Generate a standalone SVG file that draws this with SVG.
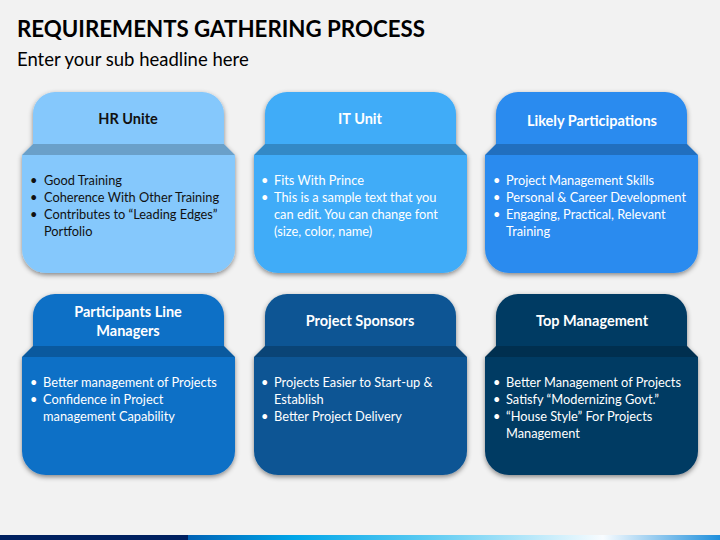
<svg xmlns="http://www.w3.org/2000/svg" xmlns:xlink="http://www.w3.org/1999/xlink" width="720" height="540" viewBox="0 0 720 540">
<defs>
<filter id="sh" x="-10%" y="-10%" width="120%" height="125%">
<feDropShadow dx="0" dy="2" stdDeviation="2.5" flood-color="#000" flood-opacity="0.45"/>
</filter>
<path id="card" d="M11,52 V22 A22,22 0 0 1 33,0 H180 A22,22 0 0 1 202,22 V52 L213,63 V157 A24,24 0 0 1 189,181 H24 A24,24 0 0 1 0,157 V63 Z"/>
<path id="band" d="M11,52 H202 L213,63 H0 Z"/>
<linearGradient id="bar" x1="0" y1="0" x2="1" y2="0">
<stop offset="0" stop-color="#0062B5"/>
<stop offset="0.2" stop-color="#00A6E8"/>
<stop offset="0.45" stop-color="#5CCBF2"/>
<stop offset="0.78" stop-color="#F8FCFF"/>
<stop offset="1" stop-color="#1E8FDC"/>
</linearGradient>
</defs>
<style>
text{font-family:Lato,"Open Sans","Liberation Sans",sans-serif}
.t{font-size:23px;font-weight:bold;fill:#000}
.s{font-size:18.5px;fill:#000}
.h{font-size:14.5px;font-weight:bold;fill:#fff;text-anchor:middle}
.b{font-size:12.8px;fill:#fff}
.dk .h,.dk .b{fill:#111}
.band{fill:#000;fill-opacity:0.2}
</style>
<rect width="720" height="540" fill="#F2F2F2"/>
<text class="t" x="17" y="37" textLength="408" lengthAdjust="spacingAndGlyphs">REQUIREMENTS GATHERING PROCESS</text>
<text class="s" x="17" y="66">Enter your sub headline here</text>

<g id="hr-unite" class="dk">
<use xlink:href="#card" transform="translate(22,92)" fill="#85C8FC" filter="url(#sh)"/>
<use xlink:href="#band" transform="translate(22,92)" class="band"/>
<text class="h" x="128" y="124">HR Unite</text>
<text class="b" x="30" y="185">•</text><text class="b" x="44" y="185">Good Training</text>
<text class="b" x="30" y="202">•</text><text class="b" x="44" y="202">Coherence With Other Training</text>
<text class="b" x="30" y="219">•</text><text class="b" x="44" y="219">Contributes to “Leading Edges”</text>
<text class="b" x="44" y="236">Portfolio</text>
</g>

<g id="it-unit">
<use xlink:href="#card" transform="translate(254,92)" fill="#40ACF8" filter="url(#sh)"/>
<use xlink:href="#band" transform="translate(254,92)" class="band"/>
<text class="h" x="360" y="124">IT Unit</text>
<text class="b" x="261" y="185">•</text><text class="b" x="274" y="185">Fits With Prince</text>
<text class="b" x="261" y="202">•</text><text class="b" x="274" y="202">This is a sample text that you</text>
<text class="b" x="274" y="219">can edit. You can change font</text>
<text class="b" x="274" y="236">(size, color, name)</text>
</g>

<g id="likely-participations">
<use xlink:href="#card" transform="translate(485,92)" fill="#2C8BEF" filter="url(#sh)"/>
<use xlink:href="#band" transform="translate(485,92)" class="band"/>
<text class="h" x="592" y="126">Likely Participations</text>
<text class="b" x="493" y="185">•</text><text class="b" x="506" y="185">Project Management Skills</text>
<text class="b" x="493" y="202">•</text><text class="b" x="506" y="202">Personal &amp; Career Development</text>
<text class="b" x="493" y="219">•</text><text class="b" x="506" y="219">Engaging, Practical, Relevant</text>
<text class="b" x="506" y="236">Training</text>
</g>

<g id="participants-line-managers">
<use xlink:href="#card" transform="translate(22,294)" fill="#0F6FC6" filter="url(#sh)"/>
<use xlink:href="#band" transform="translate(22,294)" class="band"/>
<text class="h" x="128" y="317">Participants Line</text>
<text class="h" x="128" y="336">Managers</text>
<text class="b" x="30" y="387">•</text><text class="b" x="43" y="387">Better management of Projects</text>
<text class="b" x="30" y="404">•</text><text class="b" x="43" y="404">Confidence in Project</text>
<text class="b" x="43" y="421">management Capability</text>
</g>

<g id="project-sponsors">
<use xlink:href="#card" transform="translate(254,294)" fill="#0A5594" filter="url(#sh)"/>
<use xlink:href="#band" transform="translate(254,294)" class="band"/>
<text class="h" x="360" y="326">Project Sponsors</text>
<text class="b" x="261" y="387">•</text><text class="b" x="274" y="387">Projects Easier to Start-up &amp;</text>
<text class="b" x="274" y="404">Establish</text>
<text class="b" x="261" y="421">•</text><text class="b" x="274" y="421">Better Project Delivery</text>
</g>

<g id="top-management">
<use xlink:href="#card" transform="translate(485,294)" fill="#063A63" filter="url(#sh)"/>
<use xlink:href="#band" transform="translate(485,294)" class="band"/>
<text class="h" x="592" y="326">Top Management</text>
<text class="b" x="493" y="387">•</text><text class="b" x="506" y="387">Better Management of Projects</text>
<text class="b" x="493" y="404">•</text><text class="b" x="506" y="404">Satisfy “Modernizing Govt.”</text>
<text class="b" x="493" y="421">•</text><text class="b" x="506" y="421">“House Style” For Projects</text>
<text class="b" x="506" y="438">Management</text>
</g>

<g id="connectors"></g>

<rect x="0" y="535" width="188" height="5" fill="#002060"/>
<rect x="188" y="535" width="532" height="5" fill="url(#bar)"/>
</svg>
